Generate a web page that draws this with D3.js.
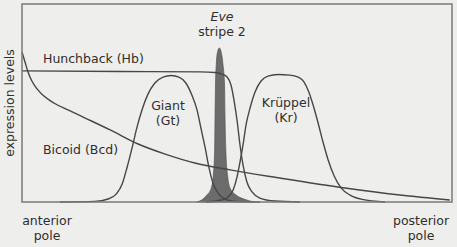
<!DOCTYPE html>
<html>
<head>
<meta charset="utf-8">
<script src="https://cdn.jsdelivr.net/npm/d3@7"></script>
<style>
  html, body { margin: 0; padding: 0; background: #eeeeec; }
  svg { display: block; }
  .lbl { font-family: "DejaVu Sans", sans-serif; font-size: 12.5px; fill: #2e2e2e; }
</style>
</head>
<body>
<div id="chart"></div>
<script>
// position along the embryo (0 = anterior, 100 = posterior) and expression level (0-100)
var hbPos   = [0, 22.8, 41.4, 44.9, 46.5, 47.7, 48.6, 49.3, 50.0, 50.7, 51.4, 52.3, 53.5, 55.3, 58.8, 64.7];
var hbLevel = [66.2, 65.9, 65.7, 65.4, 64.6, 63.1, 59.1, 51.5, 41.4, 28.8, 18.7, 10.1, 5.1, 2.0, 0.5, 0];

var bcdPos   = [0, 0.7, 1.4, 2.3, 3.5, 5.1, 7.4, 10.7, 14.7, 20.5, 27.0, 33.3, 40.2, 48.4, 60.0, 75.1, 87.9, 99.5];
var bcdLevel = [75.8, 70.7, 65.7, 61.1, 57.1, 53.5, 50.0, 46.5, 42.4, 36.4, 29.3, 24.2, 19.7, 16.2, 12.1, 7.1, 3.5, 1.0];

var gtPos   = [8.8, 16.9, 20.0, 21.9, 23.3, 24.4, 25.6, 26.7, 27.9, 29.3, 30.9, 32.8, 34.7, 36.5, 38.1, 39.5, 40.7, 41.6, 42.6, 43.5, 44.4, 45.6, 47.2, 49.5, 55.3];
var gtLevel = [0, 0.3, 1.5, 4.0, 9.1, 17.2, 27.3, 37.4, 46.5, 54.5, 60.1, 63.1, 63.9, 63.1, 60.1, 54.0, 46.5, 37.4, 27.3, 17.2, 9.6, 4.5, 1.5, 0.3, 0];

var krPos   = [42.8, 46.3, 47.9, 49.1, 50.0, 50.7, 51.4, 52.1, 53.1, 54.2, 55.6, 57.2, 59.5, 62.3, 64.2, 65.6, 66.7, 67.7, 68.8, 70.0, 71.2, 72.6, 74.2, 76.3, 79.1, 84.4];
var krLevel = [0, 1.0, 2.5, 6.1, 12.6, 20.2, 28.8, 38.9, 48.0, 55.6, 61.1, 63.6, 64.4, 64.1, 63.1, 60.6, 55.6, 49.0, 40.4, 30.3, 21.2, 13.1, 7.1, 3.5, 1.3, 0];

var evePos   = [40.7, 42.1, 43.0, 44.0, 44.5, 44.8, 44.9, 45.0, 45.2, 45.5, 45.9, 46.3, 46.7, 47.1, 47.2, 47.4, 47.8, 48.4, 49.8, 51.6, 54.0];
var eveLevel = [0, 1.5, 3.5, 7.0, 13.6, 26.3, 44.0, 59.1, 70.2, 76.0, 77.8, 76.0, 70.2, 59.1, 44.0, 26.3, 13.6, 7.0, 3.5, 1.5, 0];

var W = 457, H = 247;
var margin = {top: 4, right: 5, bottom: 45, left: 22};
var width = W - margin.left - margin.right,
    height = H - margin.top - margin.bottom;

var svg = d3.select("#chart").append("svg")
    .attr("width", W)
    .attr("height", H);

var g = svg.append("g")
    .attr("transform", "translate(" + margin.left + "," + margin.top + ")");

var x = d3.scaleLinear().domain([0, 100]).range([0, width]);
var y = d3.scaleLinear().domain([0, 100]).range([height, 0]);

function zipUp(pos, level) {
  return pos.map(function(p, i) { return {pos: p, level: level[i]}; });
}

// Eve stripe 2 shaded peak
var area = d3.area()
    .x(function(d) { return x(d.pos); })
    .y0(height)
    .y1(function(d) { return y(d.level); })
    .curve(d3.curveMonotoneX);

g.append("path")
    .datum(zipUp(evePos, eveLevel))
    .attr("d", area)
    .attr("fill", "#6c6c6c")
    .attr("stroke", "#555")
    .attr("stroke-width", 0.7);

var line = d3.line()
    .x(function(d) { return x(d.pos); })
    .y(function(d) { return y(d.level); })
    .curve(d3.curveMonotoneX);

var series = [
  zipUp(hbPos, hbLevel),
  zipUp(bcdPos, bcdLevel),
  zipUp(gtPos, gtLevel),
  zipUp(krPos, krLevel)
];

g.selectAll(".curve")
    .data(series)
    .enter().append("path")
    .attr("class", "curve")
    .attr("d", line)
    .attr("fill", "none")
    .attr("stroke", "#474747")
    .attr("stroke-width", 1.4);

// frame
g.append("rect")
    .attr("x", 0)
    .attr("y", 0)
    .attr("width", width)
    .attr("height", height)
    .attr("fill", "none")
    .attr("stroke", "#7a7a7a")
    .attr("stroke-width", 1.5);

// labels, multi-line ones as one text with tspans
var labels = [
  {lines: ["Hunchback (Hb)"], x: 43, y: 63, a: "start"},
  {lines: ["Bicoid (Bcd)"], x: 43, y: 154, a: "start"},
  {lines: ["Giant", "(Gt)"], x: 168, y: 110, a: "middle"},
  {lines: ["Eve", "stripe 2"], x: 222, y: 21, a: "middle", italicFirst: true},
  {lines: ["Krüppel", "(Kr)"], x: 286, y: 107, a: "middle"},
  {lines: ["anterior", "pole"], x: 47, y: 225, a: "middle"},
  {lines: ["posterior", "pole"], x: 421, y: 225, a: "middle"}
];

var lbl = svg.selectAll(".lbl")
    .data(labels)
    .enter().append("text")
    .attr("class", "lbl")
    .attr("y", function(d) { return d.y; })
    .attr("text-anchor", function(d) { return d.a; });

lbl.selectAll("tspan")
    .data(function(d) {
      return d.lines.map(function(t, i) {
        return {t: t, x: d.x, i: i, italic: d.italicFirst && i == 0};
      });
    })
    .enter().append("tspan")
    .attr("x", function(d) { return d.x; })
    .attr("dy", function(d) { return d.i == 0 ? 0 : 15; })
    .style("font-style", function(d) { return d.italic ? "italic" : "normal"; })
    .text(function(d) { return d.t; });

svg.append("text")
    .attr("class", "lbl")
    .attr("transform", "translate(14,103) rotate(-90)")
    .attr("text-anchor", "middle")
    .text("expression levels");
</script>
</body>
</html>
